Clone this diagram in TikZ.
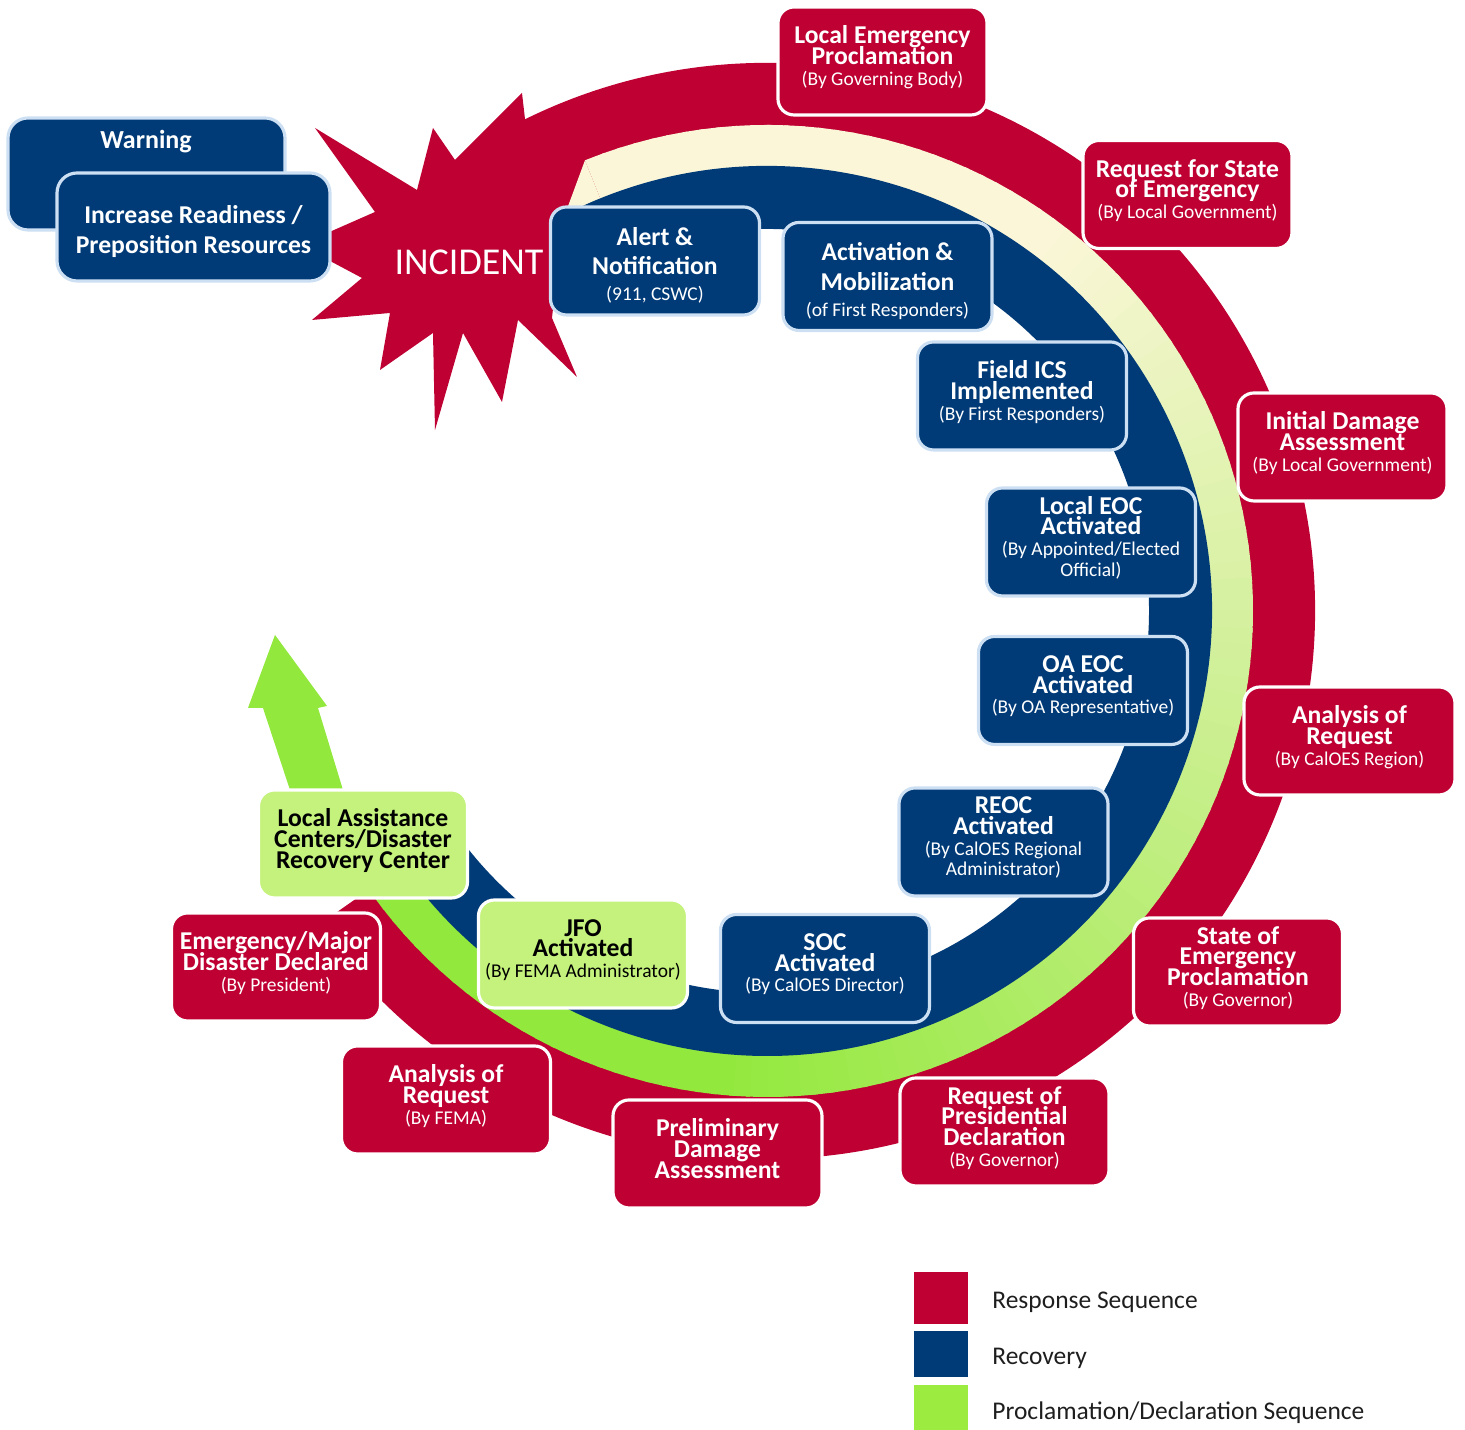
\documentclass[tikz,border=0pt]{standalone}
\usepackage{fontspec}
\setmainfont{Carlito}
\usetikzlibrary{positioning}

\definecolor{crimson}{RGB}{190,0,50}
\definecolor{navy}{RGB}{0,59,120}
\definecolor{navyedge}{RGB}{205,224,243}
\definecolor{cream}{RGB}{251,246,216}
\definecolor{bandgreen}{RGB}{146,232,60}
\definecolor{boxgreen}{RGB}{196,242,124}
\definecolor{leggreen}{RGB}{155,235,65}
\definecolor{legtext}{RGB}{30,30,30}

\newcommand{\stagefont}{\fontsize{7.3}{5.9}\selectfont\bfseries\lineskiplimit=-10pt\relax}
\newcommand{\loosefont}{\fontsize{7.3}{8.5}\selectfont\bfseries}
\newcommand{\bywho}[1]{{\fontsize{5.55}{5.9}\selectfont\mdseries #1}}
\newcommand{\lift}{\rule[-3.2pt]{0pt}{0pt}}
\newcommand{\drop}{\rule{0pt}{7.6pt}}

\tikzset{
  stage/.style={rounded corners=0.16cm, minimum width=2.09cm, minimum height=1.08cm,
    align=center, inner sep=0pt, line width=0.9pt, font=\stagefont},
  loose/.style={font=\loosefont},
  redstage/.style={stage, fill=crimson, draw=white, text=white},
  navystage/.style={stage, fill=navy, draw=navyedge, text=white},
  greenstage/.style={stage, fill=boxgreen, draw=white, text=black},
  legsq/.style={minimum width=0.54cm, inner sep=0pt},
  legtxt/.style={font=\fontsize{7.25}{8}\selectfont, text=legtext, inner sep=0pt, yshift=-0.04cm}
}

\begin{document}
\begin{tikzpicture}
  \useasboundingbox (0,0) rectangle (14.65,14.30);

  \begin{scope}[shift={(7.67,8.19)}]
    \fill[crimson] (118:5.48) arc[start angle=118, end angle=-145, radius=5.48]
      -- (-145:4.45) arc[start angle=-145, end angle=118, radius=4.45] -- cycle;
  \end{scope}

  \fill[crimson] (3.15,13.02) -- (4.17,12.40) -- (4.33,13.02) -- (4.55,12.70) -- (5.22,13.37)
    -- (5.25,13.11) -- (5.65,12.30) -- (5.52,11.12) -- (5.77,10.53) -- (5.18,11.10)
    -- (5.02,10.28) -- (4.63,10.97) -- (4.35,10.00) -- (4.33,10.97) -- (3.80,10.60)
    -- (3.90,11.17) -- (3.12,11.10) -- (3.62,11.52) -- (3.00,11.85) -- (3.75,12.18) -- cycle;

  \begin{scope}[shift={(7.67,8.19)}]
    \fill[cream] (117:4.45) -- (112:4.86) -- (112:4.44) -- cycle;
    \foreach \a [evaluate=\a as \p using {int(max(0,min(100,(55-\a)/1.5)))}] in {112,110,...,-144}
      \fill[bandgreen!\p!cream] (\a:4.86) arc[start angle=\a, end angle=\a-2.5, radius=4.86]
        -- (\a-2.5:4.44) arc[start angle=\a-2.5, end angle=\a, radius=4.44] -- cycle;
    \fill[navy] (117:4.45) arc[start angle=117, end angle=-145, radius=4.45]
      -- (-145:3.82) arc[start angle=-145, end angle=117, radius=3.82] -- cycle;
  \end{scope}

  \fill[bandgreen] (4.033,5.643) .. controls (3.83,5.93) and (3.49,6.21) .. (3.43,6.40)
    -- (3.18,7.22) -- (3.27,7.24) -- (2.75,7.95) -- (2.48,7.22) -- (2.63,7.22)
    -- (2.90,6.40) .. controls (2.96,6.21) and (3.488,5.689) .. (3.689,5.402) -- cycle;

  \node[font=\fontsize{10.8}{12}\selectfont, text=white] (incident) at (4.69,11.68) {INCIDENT};

  \node[navystage, minimum width=2.77cm, minimum height=1.12cm, rounded corners=0.2cm] (warn) at (1.465,12.56) {};
  \node[font=\fontsize{7.4}{8}\selectfont\bfseries, text=white] (warntxt) at (1.46,12.88) {Warning};
  \node[navystage, loose, minimum width=2.73cm, rounded corners=0.2cm] (ready) at (1.935,12.03) {\drop Increase Readiness /\\Preposition Resources};

  \node[navystage, loose] (alert) at (6.55,11.69) {\drop Alert \&\\Notification\\[-1.1pt]\bywho{(911, CSWC)}};
  \node[navystage, loose] (mobil) at (8.875,11.535) {\drop Activation \&\\Mobilization\\[-1.1pt]\bywho{(of First Responders)}};
  \node[navystage] (fieldics) at (10.22,10.34) {Field ICS\\Implemented\\\bywho{(By First Responders)}\lift};
  \node[navystage] (localeoc) at (10.91,8.88) {Local EOC\\Activated\\\bywho{(By Appointed/Elected}\\\bywho{Official)}\lift};
  \node[navystage] (oaeoc) at (10.83,7.395) {OA EOC\\Activated\\\bywho{(By OA Representative)}\lift};
  \node[navystage] (reoc) at (10.035,5.88) {REOC\\Activated\\\bywho{(By CalOES Regional}\\\bywho{Administrator)}\lift};
  \node[navystage] (soc) at (8.25,4.615) {SOC\\Activated\\\bywho{(By CalOES Director)}\lift};
  \node[greenstage] (jfo) at (5.83,4.76) {JFO\\Activated\\\bywho{(By FEMA Administrator)}\lift};
  \node[greenstage] (lac) at (3.63,5.86) {Local Assistance\\Centers/Disaster\\Recovery Center\lift};

  \node[redstage] (lep) at (8.825,13.69) {Local Emergency\\Proclamation\\\bywho{(By Governing Body)}\lift};
  \node[redstage] (rse) at (11.875,12.355) {Request for State\\of Emergency\\\bywho{(By Local Government)}\lift};
  \node[redstage] (ida) at (13.425,9.83) {Initial Damage\\Assessment\\\bywho{(By Local Government)}\lift};
  \node[redstage, minimum width=2.11cm] (aorc) at (13.495,6.89) {Analysis of\\Request\\\bywho{(By CalOES Region)}\lift};
  \node[redstage] (sep) at (12.38,4.58) {State of\\Emergency\\Proclamation\\\bywho{(By Governor)}\lift};
  \node[redstage] (rpd) at (10.045,2.98) {Request of\\Presidential\\Declaration\\\bywho{(By Governor)}\lift};
  \node[redstage] (pda) at (7.175,2.76) {Preliminary\\Damage\\Assessment\lift};
  \node[redstage] (aorf) at (4.46,3.30) {Analysis of\\Request\\\bywho{(By FEMA)}\lift};
  \node[redstage] (edd) at (2.76,4.63) {Emergency/Major\\Disaster Declared\\\bywho{(By President)}\lift};

  \node[legsq, minimum height=0.52cm, fill=crimson] (legred) at (9.41,1.32) {};
  \node[legsq, minimum height=0.46cm, fill=navy, below=0.06cm of legred] (legnavy) {};
  \node[legsq, minimum height=0.48cm, fill=leggreen, below=0.06cm of legnavy] (leggrn) {};
  \node[legtxt, right=0.23cm of legred] (legredtxt) {Response Sequence};
  \node[legtxt, right=0.23cm of legnavy] (legnavytxt) {Recovery};
  \node[legtxt, right=0.23cm of leggrn] (leggrntxt) {Proclamation/Declaration Sequence};
\end{tikzpicture}
\end{document}
